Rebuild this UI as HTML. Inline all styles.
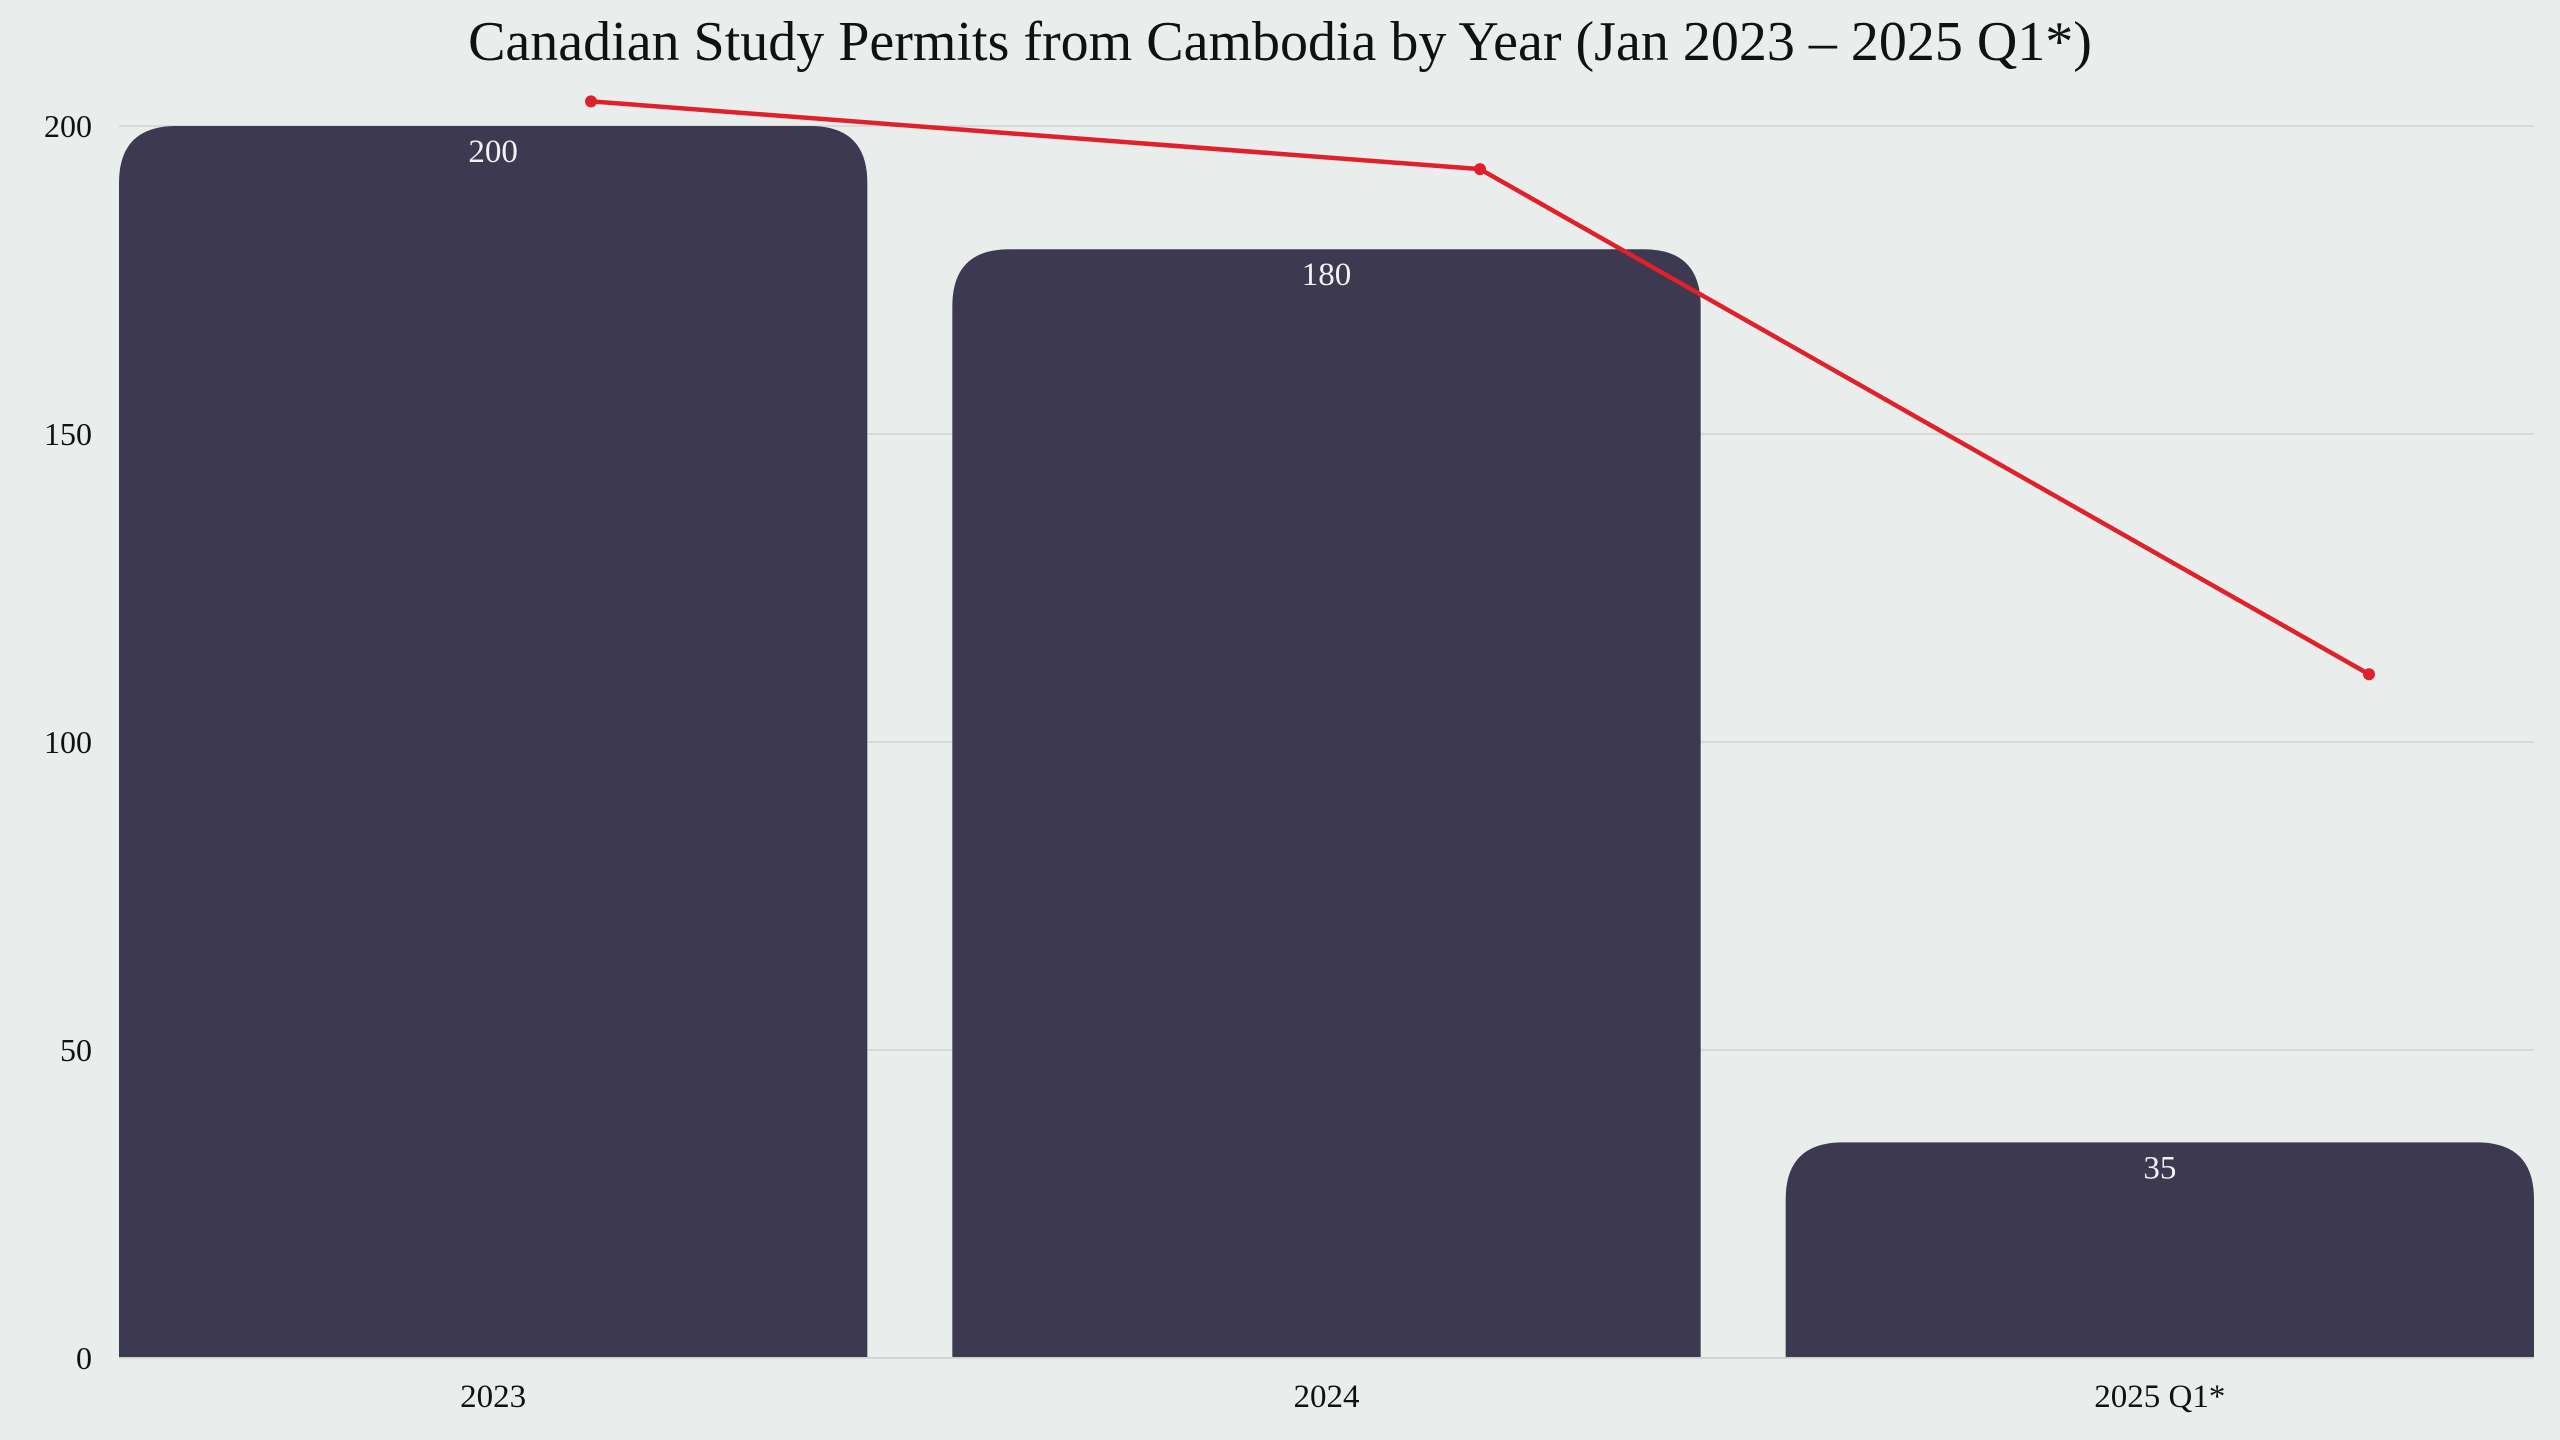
<!DOCTYPE html>
<html><head><meta charset="utf-8"><style>
html,body{margin:0;padding:0;background:#e9eeec;}
svg{display:block;font-family:"Liberation Serif",serif;}
</style></head><body>
<svg id="chart" width="2560" height="1440" viewBox="0 0 2560 1440">
<rect width="2560" height="1440" fill="#e9eeec"/>
<text x="1280" y="60" text-anchor="middle" font-size="56" fill="#111">Canadian Study Permits from Cambodia by Year (Jan 2023 – 2025 Q1*)</text>
<g id="grid"></g><g id="bars"></g><g id="line"></g><g id="axes"></g>
</svg>
<script>
const categories = ["2023","2024","2025 Q1*"];
const barValues = [200,180,35];
const lineValues = [204,193,111];
const yTicks = [0,50,100,150,200];
const NS="http://www.w3.org/2000/svg";
const L=119,R=2534,Y0=1358,Y200=126;
const y=v=>Y0-(v/200)*(Y0-Y200);
const band=(R-L)/categories.length, gap=85, bw=band-gap*2/3;
const barX=i=>L+i*(bw+gap);
const lineX=i=>591+i*((2369-591)/(categories.length-1));
function mk(t,a,p){const e=document.createElementNS(NS,t);for(const k in a)e.setAttribute(k,a[k]);p.appendChild(e);return e;}
const grid=document.getElementById('grid'),bars=document.getElementById('bars'),line=document.getElementById('line'),axes=document.getElementById('axes');
yTicks.forEach(v=>{
 if(v>0){const g=mk('line',{x1:L,x2:R,y1:y(v),y2:y(v),stroke:'#d6dbd9','stroke-width':2},grid);
 
 }
 const t=mk('text',{x:92,y:y(v)+11,'text-anchor':'end','font-size':32,fill:'#111'},axes);t.textContent=v;
 
 
});
const base=mk('line',{x1:L,x2:R,y1:Y0,y2:Y0,stroke:'#d0d5d3','stroke-width':2},axes);


categories.forEach((c,i)=>{
 const x0=barX(i),x1=x0+bw,top=y(barValues[i]),r=Math.min(57,(Y0-top)/2);
 const p=mk('path',{d:`M${x0},${Y0}V${top+r}Q${x0},${top} ${x0+r},${top}H${x1-r}Q${x1},${top} ${x1},${top+r}V${Y0}Z`,fill:'#3d3950'},bars);
 
 
 const lb=mk('text',{x:x0+bw/2,y:top+36,'text-anchor':'middle','font-size':33,fill:'#f2f2f2'},bars);lb.textContent=barValues[i];
 
 
 const xt=mk('text',{x:x0+bw/2,y:1407,'text-anchor':'middle','font-size':33,fill:'#111'},axes);xt.textContent=c;
 
 
});
const pl=mk('polyline',{points:lineValues.map((v,i)=>lineX(i)+','+y(v)).join(' '),fill:'none',stroke:'#e0202a','stroke-width':4.5},line);


lineValues.forEach((v,i)=>{const c=mk('circle',{cx:lineX(i),cy:y(v),r:6,fill:'#e0202a'},line);
 
 });
</script>
</body></html>
